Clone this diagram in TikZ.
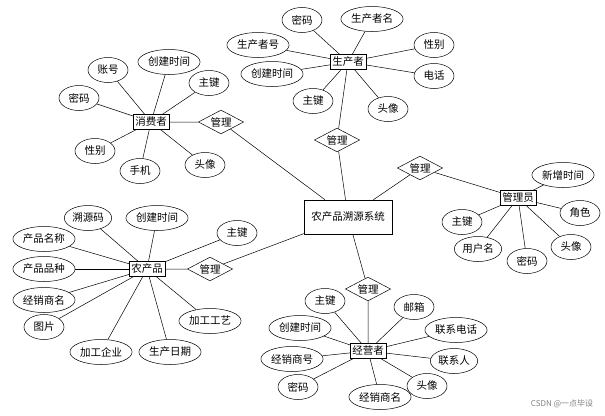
\documentclass[tikz,border=0pt]{standalone}
\usepackage{fontspec}
\newfontfamily\cjk{Noto Sans CJK SC}
\usetikzlibrary{shapes.geometric}
\begin{document}
\begin{tikzpicture}[x=1pt,y=-1pt,font=\cjk\fontsize{10.5}{12}\selectfont,
  ent/.style={draw,rectangle,inner sep=2pt,minimum height=15},
  att/.style={draw,ellipse,inner xsep=1pt,inner ysep=1pt,minimum height=25,minimum width=40},
  rel/.style={draw,diamond,aspect=1.9,inner sep=1pt},
  every path/.style={line width=0.5pt}]
\useasboundingbox (0,0) rectangle (605,415);
% center
\node[ent,minimum width=88,minimum height=34] (sys) at (348,217) {农产品溯源系统};
% producer
\node[ent] (p) at (348,62) {生产者};
\node[rel] (pr) at (337,140) {管理};
\foreach \n/\t/\x/\y in {p1/密码/302/20,p2/生产者名/372/19,p3/生产者号/258/45,p4/性别/434/45,p5/创建时间/272/74,p6/电话/434/76,p7/主键/313/101,p8/头像/388/109}
  {\node[att] (\n) at (\x,\y) {\t}; \draw (p) -- (\n);}
\draw (p) -- (pr) -- (sys);
% consumer
\node[ent] (c) at (151,122) {消费者};
\node[rel] (cr) at (221,122) {管理};
\foreach \n/\t/\x/\y in {c1/账号/108/70,c2/创建时间/169/62,c3/主键/209/83,c4/密码/79/98,c5/性别/95/151,c6/手机/140/171,c7/头像/205/165}
  {\node[att] (\n) at (\x,\y) {\t}; \draw (c) -- (\n);}
\draw (c) -- (cr) -- (sys);
% admin
\node[ent] (a) at (518,198) {管理员};
\node[rel] (ar) at (420,168) {管理};
\foreach \n/\t/\x/\y in {a1/新增时间/563/175,a2/角色/580/213,a3/主键/462/222,a4/用户名/478/249,a5/密码/527/261,a6/头像/571/247}
  {\node[att] (\n) at (\x,\y) {\t}; \draw (a) -- (\n);}
\draw (a) -- (ar) -- (sys);
% product
\node[ent] (g) at (147,269) {农产品};
\node[rel] (gr) at (210,269) {管理};
\foreach \n/\t/\x/\y in {g1/溯源码/88/218,g2/创建时间/157/218,g3/主键/237/233,g4/产品名称/44/239,g5/产品品种/44/269,g6/经销商名/44/300,g7/图片/44/327,g8/加工企业/101/352,g9/生产日期/170/352,g10/加工工艺/210/321}
  {\node[att] (\n) at (\x,\y) {\t}; \draw (g) -- (\n);}
\draw (g) -- (gr) -- (sys);
% dealer
\node[ent] (d) at (368,351) {经营者};
\node[rel] (dr) at (368,289) {管理};
\foreach \n/\t/\x/\y in {d1/主键/325/301,d2/邮箱/414/307,d3/创建时间/300/328,d4/联系电话/456/330,d5/经销商号/292/359,d6/联系人/454/361,d7/密码/298/387,d8/经销商名/380/397,d9/头像/427/386}
  {\node[att] (\n) at (\x,\y) {\t}; \draw (d) -- (\n);}
\draw (d) -- (dr) -- (sys);
\node[text=gray,font=\cjk\fontsize{8}{9}\selectfont] (wm) at (562,404) {CSDN @一点毕设};
\end{tikzpicture}
\end{document}
